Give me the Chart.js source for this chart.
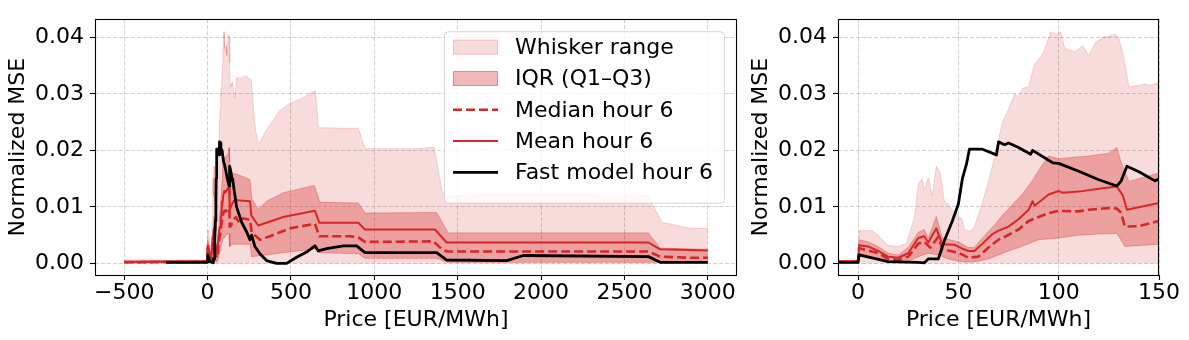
<!DOCTYPE html>
<html>
<head>
<meta charset="utf-8">
<script src="https://cdn.jsdelivr.net/npm/chart.js@4.4.1/dist/chart.umd.min.js"></script>
<style>
  html, body { margin: 0; padding: 0; background: #fff; }
  #wrap { position: relative; width: 1189px; height: 340px; }
  #wrap canvas { position: absolute; top: 0; }
  #chartLeft { left: 0; }
  #chartRight { left: 740px; }
</style>
</head>
<body>
<div id="wrap">
  <canvas id="chartLeft" width="740" height="340"></canvas>
  <canvas id="chartRight" width="449" height="340"></canvas>
</div>
<script>
// [price EUR/MWh, normalized MSE] pairs
const whiskerHi = [[-500,0.0006],[0,0.0006],[0.5,0.0058],[7,0.0058],[10,0.005],[15,0.0032],[20,0.003],[24,0.0035],
  [28,0.008],[30,0.014],[32,0.015],[33,0.013],[35,0.0152],[37,0.012],[39,0.0172],[41,0.016],[43,0.011],[45,0.0105],
  [47,0.0095],[50,0.0085],[52,0.0078],[53,0.006],[56,0.0057],[58,0.0065],[62,0.0108],[65,0.0145],[68,0.0188],
  [72,0.025],[75,0.0273],[78,0.030],[80,0.0295],[82,0.031],[85,0.0313],[88,0.0353],[92,0.037],[96,0.041],
  [99,0.0405],[101,0.041],[103,0.038],[108,0.0375],[112,0.0385],[115,0.0368],[118,0.039],[122,0.040],[128,0.0405],
  [130,0.040],[133,0.0355],[135,0.0312],[140,0.0315],[143,0.0318],[145,0.0315],[150,0.032],[163,0.0293],
  [175,0.033],[192,0.0327],[230,0.0332],[262,0.0325],[282,0.025],[300,0.0216],[311,0.0213],[351,0.0235],
  [430,0.027],[490,0.0283],[550,0.029],[640,0.0305],[648,0.0305],[665,0.024],[904,0.0239],[945,0.0203],
  [1250,0.0203],[1360,0.0206],[1384,0.0165],[1404,0.013],[1434,0.0116],[1454,0.0119],[1754,0.0123],
  [2644,0.012],[2664,0.0105],[2704,0.0085],[2724,0.0073],[2754,0.0071],[2894,0.0062],[3000,0.0062]];
const whiskerLo = [[-500,0],[3000,0]];
const q3 = [[-500,0.0005],[0,0.0005],[0.5,0.0042],[5,0.0038],[10,0.003],[15,0.0018],[20,0.0015],[25,0.0028],
  [30,0.0055],[33,0.006],[35,0.0045],[39,0.0083],[42,0.0045],[50,0.0038],[55,0.0028],[58,0.0028],[62,0.0045],
  [68,0.0068],[72,0.0085],[78,0.0108],[82,0.0123],[87,0.0147],[90,0.0165],[95,0.019],[100,0.0185],[105,0.0187],
  [115,0.019],[125,0.0195],[129,0.0205],[131,0.018],[135,0.0145],[140,0.015],[150,0.016],[200,0.0155],
  [255,0.0148],[265,0.0115],[304,0.0096],[354,0.011],[454,0.0125],[640,0.0138],[674,0.0108],[904,0.0107],
  [944,0.0089],[1374,0.009],[1444,0.0054],[2644,0.0054],[2714,0.0027],[3000,0.0025]];
const q1 = [[-500,0.0001],[0,0.0001],[0.5,0.0018],[10,0.0008],[15,0.0003],[20,0.0002],[25,0.0004],[30,0.0012],
  [35,0.0018],[40,0.0015],[45,0.0008],[50,0.0004],[55,0.0002],[60,0.0004],[65,0.0008],[70,0.0015],[75,0.0022],
  [80,0.0028],[85,0.0035],[90,0.0042],[100,0.0045],[110,0.005],[120,0.0052],[129,0.0053],[133,0.003],
  [150,0.0034],[255,0.0034],[265,0.0012],[650,0.0026],[670,0.0019],[904,0.0017],[944,0.0009],[1374,0.0009],
  [1440,0.0002],[3000,0.0002]];
const medianHour6 = [[-500,0.0002],[-10,0.0003],[0,0.0003],[0.5,0.0027],[10,0.0018],[15,0.0008],[20,0.0006],
  [25,0.0012],[30,0.0035],[33,0.0038],[36,0.0028],[40,0.0047],[42,0.0025],[50,0.0019],[55,0.001],[60,0.0012],
  [65,0.0028],[70,0.0042],[72,0.0045],[80,0.006],[85,0.0075],[90,0.0082],[95,0.0089],[100,0.0093],[110,0.0092],
  [115,0.0095],[125,0.0098],[129,0.0097],[131,0.009],[133,0.0065],[140,0.0066],[150,0.0075],[170,0.0082],
  [190,0.0072],[210,0.008],[255,0.0077],[265,0.0055],[314,0.0042],[374,0.0048],[494,0.0062],[644,0.007],
  [670,0.0048],[854,0.0048],[904,0.0046],[944,0.0038],[1354,0.0039],[1414,0.0023],[1444,0.0021],[2644,0.0021],
  [2714,0.0012],[2894,0.001],[3000,0.001]];
const meanHour6 = [[-500,0.0002],[-10,0.0004],[0,0.0004],[0.5,0.0032],[5,0.003],[10,0.0022],[15,0.0012],[20,0.001],
  [25,0.0018],[30,0.0045],[33,0.0048],[35,0.0037],[39,0.0062],[42,0.0034],[48,0.0033],[52,0.0026],[55,0.0022],
  [58,0.0022],[62,0.0035],[67,0.0052],[70,0.0058],[75,0.0065],[80,0.0078],[85,0.0095],[87,0.011],[88,0.0102],
  [95,0.0122],[100,0.0128],[102,0.0125],[110,0.0127],[120,0.0132],[129,0.0136],[132,0.012],[134,0.0095],
  [150,0.0107],[160,0.0112],[255,0.011],[262,0.0085],[304,0.0067],[454,0.0082],[644,0.0093],[670,0.0072],
  [904,0.0072],[944,0.006],[1364,0.006],[1434,0.0037],[2644,0.0037],[2714,0.0025],[3000,0.0023]];
const fastHour6 = [[-250,0.0002],[-10,0.0002],[0,0.0002],[0.5,0.0015],[15,0.0003],[30,0.0002],[33,0.0001],
  [35,0.0008],[40,0.0008],[43,0.004],[47,0.0075],[50,0.0105],[52,0.015],[54,0.0175],[55.5,0.0202],[62,0.0202],
  [69,0.0192],[70,0.0215],[73,0.021],[75,0.0213],[80,0.0205],[86,0.0193],[87,0.02],[97,0.0178],[100,0.0177],
  [110,0.0163],[120,0.0148],[129,0.0137],[131,0.0145],[134,0.0172],[140,0.0162],[148,0.0146],[150,0.015],
  [160,0.0128],[174,0.010],[204,0.0073],[234,0.0056],[254,0.0042],[264,0.005],[284,0.003],[314,0.0017],
  [354,0.0005],[414,0.0],[474,0.0],[534,0.0011],[594,0.002],[644,0.0031],[664,0.0022],[714,0.0026],
  [814,0.0031],[894,0.0031],[944,0.0019],[1374,0.0019],[1434,0.0006],[1794,0.0005],[1894,0.0014],
  [2644,0.0012],[2714,0.0002],[3000,0.0002]];

const yTicks = [0, 0.01, 0.02, 0.03, 0.04];
const leftXTicks = [-500, 0, 500, 1000, 1500, 2000, 2500, 3000];
const rightXTicks = [0, 50, 100, 150];

const red = 'rgb(214, 39, 40)';
const whiskerColor = 'rgba(214, 39, 40, 0.17)';
const iqrColor = 'rgba(214, 39, 40, 0.33)';
const gridColor = 'rgba(176, 176, 176, 0.6)';

Chart.defaults.font.family = 'DejaVu Sans';
Chart.defaults.font.size = 22;
Chart.defaults.color = '#000';

const pts = arr => arr.map(([x, y]) => ({x, y}));

function buildDatasets() {
  return [
    {label: 'Whisker range', kind: 'patch', data: pts(whiskerHi), fill: 1,
     backgroundColor: whiskerColor, borderColor: whiskerColor, borderWidth: 1, order: 6},
    {data: pts(whiskerLo), borderColor: 'rgba(0,0,0,0)', borderWidth: 0, order: 6},
    {label: 'IQR (Q1\u2013Q3)', kind: 'patch', data: pts(q3), fill: 3,
     backgroundColor: iqrColor, borderColor: iqrColor, borderWidth: 1, order: 5},
    {data: pts(q1), borderColor: iqrColor, borderWidth: 1, order: 5},
    {label: 'Median hour 6', kind: 'line', data: pts(medianHour6), borderColor: red,
     borderWidth: 2.6, borderDash: [9, 4], order: 3},
    {label: 'Mean hour 6', kind: 'line', data: pts(meanHour6), borderColor: red, borderWidth: 2, order: 2},
    {label: 'Fast model hour 6', kind: 'line', data: pts(fastHour6), borderColor: '#000', borderWidth: 2.8, order: 1}
  ];
}

const framePlugin = {
  id: 'frame',
  afterDatasetsDraw(chart) {
    const {ctx, chartArea: a} = chart;
    ctx.save();
    ctx.strokeStyle = '#000';
    ctx.lineWidth = 1.1;
    ctx.strokeRect(Math.round(a.left) + 0.5, Math.round(a.top) + 0.5,
      Math.round(a.right - a.left) - 1, Math.round(a.bottom - a.top));
    ctx.restore();
  }
};

// matplotlib-like legend box in the upper right of the plot
const legendPlugin = {
  id: 'mplLegend',
  afterDraw(chart) {
    const {ctx, chartArea: a} = chart;
    const items = chart.data.datasets.filter(d => d.label);
    const rowH = 31.3;
    const right = a.right - 13, top = a.top + 12;
    const w = 280, h = 16 + items.length * rowH - 13 + 12;
    const left = right - w;
    ctx.save();
    ctx.beginPath();
    ctx.roundRect(left + 0.5, top + 0.5, w, h, 4);
    ctx.fillStyle = 'rgba(255,255,255,0.8)';
    ctx.fill();
    ctx.strokeStyle = 'rgba(204,204,204,0.8)';
    ctx.lineWidth = 1;
    ctx.stroke();
    items.forEach((d, i) => {
      const cy = top + 16 + i * rowH;
      const hx = left + 9, hw = 45;
      if (d.kind === 'patch') {
        ctx.fillStyle = d.backgroundColor;
        ctx.fillRect(hx, cy - 7.5, hw, 15);
        ctx.strokeStyle = d.borderColor;
        ctx.lineWidth = 1;
        ctx.strokeRect(hx + 0.5, cy - 7, hw - 1, 14);
      } else {
        ctx.beginPath();
        ctx.setLineDash(d.borderDash || []);
        ctx.strokeStyle = d.borderColor;
        ctx.lineWidth = d.borderWidth;
        ctx.moveTo(hx, cy);
        ctx.lineTo(hx + hw, cy);
        ctx.stroke();
        ctx.setLineDash([]);
      }
      ctx.fillStyle = '#000';
      ctx.font = '22px "DejaVu Sans"';
      ctx.textBaseline = 'middle';
      ctx.textAlign = 'left';
      ctx.fillText(d.label, left + 71, cy + 1);
    });
    ctx.restore();
  }
};

const fmtX = v => (v < 0 ? '\u2212' + Math.abs(v) : String(v));

function makeChart(id, cfg) {
  return new Chart(document.getElementById(id), {
    type: 'line',
    data: {datasets: buildDatasets()},
    plugins: cfg.plugins,
    options: {
      responsive: false,
      animation: false,
      events: [],
      layout: {padding: {left: 0, right: cfg.padRight, top: 10, bottom: 0}},
      elements: {
        point: {radius: 0},
        line: {tension: 0, borderJoinStyle: 'round', fill: false}
      },
      datasets: {line: {clip: 0}},
      plugins: {legend: {display: false}, tooltip: {enabled: false}},
      scales: {
        x: {
          type: 'linear', min: cfg.xMin, max: cfg.xMax,
          afterBuildTicks: s => { s.ticks = cfg.xTicks.map(v => ({value: v})); },
          afterFit: s => { s.height = 65; },
          ticks: {padding: 0, maxRotation: 0, autoSkip: false, callback: v => fmtX(v)},
          grid: {color: gridColor, lineWidth: 1, tickColor: '#000', tickLength: 5, tickWidth: 1.1, tickBorderDash: []},
          border: {display: false, dash: [4, 2]},
          title: {display: true, text: 'Price [EUR/MWh]', padding: {top: 0, bottom: 7}}
        },
        y: {
          type: 'linear', min: -0.00205, max: 0.0432,
          afterBuildTicks: s => { s.ticks = yTicks.map(v => ({value: v})); },
          afterFit: s => { s.width = cfg.yWidth; },
          ticks: {padding: 6, callback: v => v.toFixed(2)},
          grid: {color: gridColor, lineWidth: 1, tickColor: '#000', tickLength: 5, tickWidth: 1.1, tickBorderDash: []},
          border: {display: false, dash: [4, 2]},
          title: {display: true, text: 'Normalized MSE', padding: {top: cfg.yTitlePad, bottom: 0}}
        }
      }
    }
  });
}

makeChart('chartLeft', {
  xMin: -675, xMax: 3175, xTicks: leftXTicks, padRight: 3, yWidth: 95, yTitlePad: 5,
  plugins: [framePlugin, legendPlugin]
});
makeChart('chartRight', {
  xMin: -10, xMax: 150, xTicks: rightXTicks, padRight: 30, yWidth: 98, yTitlePad: 8,
  plugins: [framePlugin]
});
</script>
</body>
</html>
